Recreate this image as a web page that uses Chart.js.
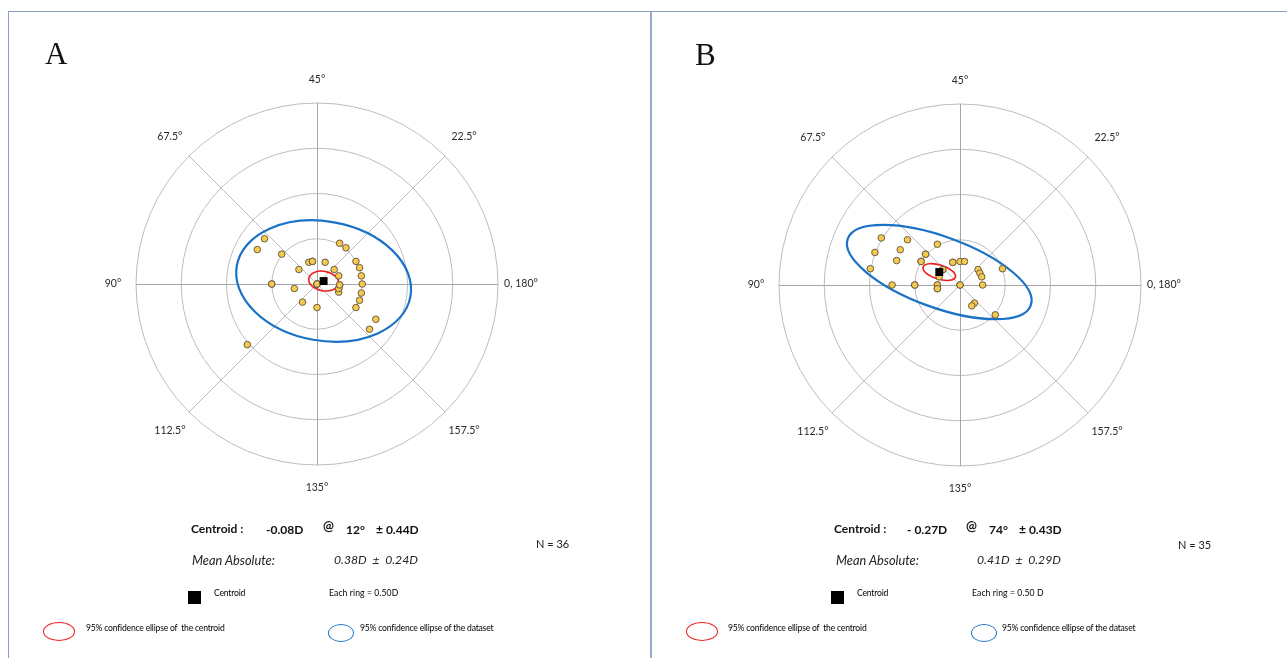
<!DOCTYPE html>
<html>
<head>
<meta charset="utf-8">
<script src="https://cdn.jsdelivr.net/npm/chart.js@4.4.1/dist/chart.umd.min.js"></script>
<style>
  html, body { margin: 0; padding: 0; background: #fff; }
  body { width: 1287px; height: 658px; position: relative; overflow: hidden; font-family: Lato, "Open Sans", sans-serif; color: #111; }
  canvas { position: absolute; top: 0; }
  .line { position: absolute; background: #8d9ec6; }
  .t { position: absolute; white-space: nowrap; line-height: 1; transform: translateY(-50%); }
  .panel { font-family: "Liberation Serif", serif; font-size: 31px; }
  .b { font-weight: 700; font-size: 12px; }
  .i { font-style: italic; font-size: 12.8px; color: #222; }
  .s { font-size: 8.6px; letter-spacing: -0.2px; color: #000; }
  .n { font-size: 11px; color: #222; }
  .sq { position: absolute; width: 13px; height: 13px; background: #000; }
  .ell { position: absolute; border-radius: 50%; box-sizing: border-box; }
</style>
</head>
<body>
<div class="line" style="left:8px; top:11px; width:1279px; height:1px;"></div>
<div class="line" style="left:8px; top:11px; width:1px; height:647px;"></div>
<div class="line" style="left:650px; top:11px; width:2px; height:647px; background:#97a9cf;"></div>

<canvas id="chartA" width="651" height="658" style="left:0;"></canvas>
<canvas id="chartB" width="636" height="658" style="left:651px;"></canvas>

<div id="texts"></div>

<script>
// Double-angle astigmatism plots: x = power·cos(2·axis), y = power·sin(2·axis), in dioptres.

const panelNames = ['A', 'B'];

// Spoke labels, counter-clockwise from the right, every 45° of plot angle
const axisLabels = ['0, 180°', '22.5°', '45°', '67.5°', '90°', '112.5°', '135°', '157.5°'];
const ringStep = 0.5;   // D per ring
const ringCount = 4;

// Panel A eyes
const xA = [-0.58, -0.66, -0.39, -0.20, -0.09, -0.05, 0.09, 0.25, 0.32, 0.19, 0.24, 0.25, 0.24, 0.24,
            0.43, 0.47, 0.49, 0.50, 0.49, 0.47, 0.43, 0.65, 0.58, 0.00, -0.50, -0.25, -0.16, 0.00, -0.77,
            0.00, 0.00, 0.00, -0.05, 0.24, -0.50, 0.25];
const yA = [0.50, 0.38, 0.33, 0.16, 0.24, 0.25, 0.24, 0.45, 0.40, 0.16, 0.09, -0.01, -0.05, -0.09,
            0.25, 0.18, 0.09, 0.00, -0.10, -0.18, -0.26, -0.39, -0.50, 0.00, 0.00, -0.05, -0.20, -0.26, -0.67,
            0.00, 0.00, 0.00, 0.25, -0.05, 0.00, -0.01];

// Panel B eyes
const xB = [-0.87, -0.58, -0.25, -0.94, -0.66, -0.70, -0.38, -0.43, -0.99, -0.08, 0.00, 0.05, -0.19, -0.23,
            -0.75, -0.50, -0.25, -0.25, 0.00, 0.25, 0.20, 0.22, 0.24, 0.47, 0.16, 0.13, 0.39,
            -0.50, -0.25, 0.00, -0.43, -0.38, -0.19, -0.08, -0.25];
const yB = [0.52, 0.50, 0.45, 0.36, 0.39, 0.27, 0.34, 0.26, 0.18, 0.25, 0.26, 0.26, 0.17, 0.09,
            0.00, 0.00, 0.00, -0.04, 0.00, 0.00, 0.17, 0.13, 0.09, 0.18, -0.20, -0.23, -0.33,
            0.00, 0.00, 0.00, 0.26, 0.34, 0.17, 0.25, -0.04];

// Summary statistics per panel
const centroidPower = [0.08, 0.27];     // D (minus cylinder)
const centroidAxis = [12, 74];          // degrees
const centroidSD = [0.44, 0.43];        // D
const meanAbs = [0.38, 0.41];           // D
const meanAbsSD = [0.24, 0.29];         // D
const sampleSize = [36, 35];

// 95% confidence ellipses: [semi-major D, semi-minor D, tilt in plot degrees]
const centroidEllipse = [[0.166, 0.108, -10], [0.187, 0.078, -17]];
const datasetEllipse = [[0.974, 0.659, -10], [1.076, 0.392, -20]];

const GRID = '#bdbdbd';
const AXIS = '#a6a6a6';

function centroidXY(i) {
  const a = 2 * centroidAxis[i] * Math.PI / 180;
  return { x: centroidPower[i] * Math.cos(a), y: centroidPower[i] * Math.sin(a) };
}

const polarGrid = {
  id: 'polarGrid',
  beforeDatasetsDraw(chart, args, opts) {
    const { ctx } = chart;
    const sx = chart.scales.x, sy = chart.scales.y;
    const cx = sx.getPixelForValue(0), cy = sy.getPixelForValue(0);
    const k = sx.getPixelForValue(1) - cx;
    const R = ringStep * ringCount * k;
    ctx.save();
    ctx.lineWidth = 1;
    // rings
    ctx.strokeStyle = GRID;
    for (let r = 1; r <= ringCount; r++) {
      ctx.beginPath();
      ctx.arc(cx, cy, r * ringStep * k, 0, Math.PI * 2);
      ctx.stroke();
    }
    // spokes
    for (let s = 0; s < 8; s++) {
      const a = s * Math.PI / 4;
      ctx.strokeStyle = (s % 2 === 0) ? AXIS : GRID;
      ctx.beginPath();
      let x0 = cx, y0 = cy, x1 = cx + R * Math.cos(a), y1 = cy - R * Math.sin(a);
      if (s % 2 === 0) {
        if (s % 4 === 0) { y0 = y1 = Math.round(cy) + 0.5; } else { x0 = x1 = Math.round(cx) + 0.5; }
      }
      ctx.moveTo(x0, y0);
      ctx.lineTo(x1, y1);
      ctx.stroke();
    }
    // spoke labels
    ctx.fillStyle = '#2a2a2a';
    ctx.font = '10.5px Lato, "Open Sans", sans-serif';
    ctx.textAlign = 'center';
    ctx.textBaseline = 'middle';
    axisLabels.forEach((lab, s) => {
      const a = s * Math.PI / 4;
      const rr = R + (s % 2 === 0 ? 23 : 27);
      ctx.fillText(lab, cx + rr * Math.cos(a), cy - rr * Math.sin(a));
    });
    // confidence ellipses around the centroid
    const i = opts.panel;
    const c = centroidXY(i);
    const ex = sx.getPixelForValue(c.x), ey = sy.getPixelForValue(c.y);
    const drawEll = (e, color, w) => {
      ctx.strokeStyle = color;
      ctx.lineWidth = w;
      ctx.beginPath();
      ctx.ellipse(ex, ey, e[0] * k, e[1] * k, -e[2] * Math.PI / 180, 0, Math.PI * 2);
      ctx.stroke();
    };
    drawEll(datasetEllipse[i], '#1a72c6', 2.2);
    drawEll(centroidEllipse[i], '#ee1c1c', 1.6);
    ctx.restore();
  }
};

function makeChart(id, i, xs, ys, pad) {
  const c = centroidXY(i);
  return new Chart(document.getElementById(id), {
    type: 'scatter',
    data: {
      datasets: [
        {
          label: 'Centroid',
          data: [c],
          pointStyle: 'rect',
          pointRadius: 5.6,
          backgroundColor: '#000',
          borderColor: '#000',
          borderWidth: 0
        },
        {
          label: 'Eyes',
          data: xs.map((x, j) => ({ x: x, y: ys[j] })),
          pointRadius: 3.3,
          backgroundColor: '#f6c94f',
          borderColor: '#5b5140',
          borderWidth: 0.9
        }
      ]
    },
    options: {
      responsive: false,
      animation: false,
      events: [],
      layout: { padding: pad },
      plugins: { legend: { display: false }, tooltip: { enabled: false }, polarGrid: { panel: i } },
      scales: {
        x: { type: 'linear', min: -2, max: 2, display: false },
        y: { type: 'linear', min: -2, max: 2, display: false }
      }
    },
    plugins: [polarGrid]
  });
}

makeChart('chartA', 0, xA, yA, { left: 136, right: 153, top: 103, bottom: 193 });
makeChart('chartB', 1, xB, yB, { left: 128, right: 146, top: 104, bottom: 192 });

// Statistics block under each plot
const textLayout = [
  { letter: [45, 53], cen: 191, pw: 266, at: 323, ax: 346, sd: 376, ma: 192, mv: 334, n: [536, 543],
    sq: 188, cl: 214, ring: 329, re: 59, rl: 86, be: 341, bl: 360 },
  { letter: [695, 54], cen: 834, pw: 907, at: 966, ax: 989, sd: 1019, ma: 836, mv: 977, n: [1178, 544],
    sq: 831, cl: 857, ring: 972, re: 702, rl: 728, be: 984, bl: 1002 }
];

const box = document.getElementById('texts');
function add(html, cls, x, y, extra) {
  const d = document.createElement('div');
  d.className = cls;
  d.style.left = x + 'px';
  d.style.top = y + 'px';
  if (extra) d.style.cssText += extra;
  d.innerHTML = html;
  box.appendChild(d);
  return d;
}

textLayout.forEach((L, i) => {
  add(panelNames[i], 't panel', L.letter[0], L.letter[1]);
  add('Centroid :', 't b', L.cen, 529);
  add((i === 0 ? '-' : '- ') + centroidPower[i].toFixed(2) + 'D', 't b', L.pw, 530);
  add('@', 't b', L.at, 526, 'font-size:13px;');
  add(centroidAxis[i] + '°', 't b', L.ax, 530);
  add('± ' + centroidSD[i].toFixed(2) + 'D', 't b', L.sd, 530);
  add('Mean Absolute:', 't i', L.ma, 560);
  add(meanAbs[i].toFixed(2) + 'D &nbsp;± &nbsp;' + meanAbsSD[i].toFixed(2) + 'D', 't i', L.mv, 560, 'font-size:12.2px;');
  add('N = ' + sampleSize[i], 't n', L.n[0], L.n[1]);
  const sq = document.createElement('div');
  sq.className = 'sq';
  sq.style.left = L.sq + 'px';
  sq.style.top = '591px';
  box.appendChild(sq);
  add('Centroid', 't s', L.cl, 593);
  add('Each ring = ' + ringStep.toFixed(2) + (i === 0 ? 'D' : ' D'), 't s', L.ring, 593, 'letter-spacing:0.1px;');
  add('', 'ell', L.re - 16, 622, 'width:32px;height:19px;border:1.5px solid #ee1c1c;');
  add('95% confidence ellipse of &nbsp;the centroid', 't s', L.rl, 628);
  add('', 'ell', L.be - 13, 624, 'width:26px;height:18px;border:1.5px solid #1a72c6;');
  add('95% confidence ellipse of the dataset', 't s', L.bl, 628);
});
</script>
</body>
</html>
